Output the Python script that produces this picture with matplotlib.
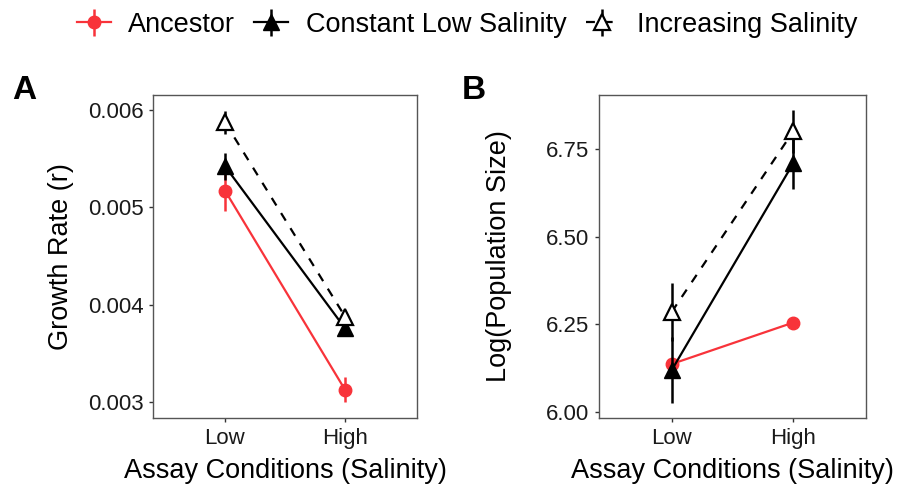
import matplotlib
matplotlib.use("Agg")
import matplotlib.pyplot as plt

plt.rcParams['font.family'] = ['Liberation Sans', 'DejaVu Sans']

# x categories
conditions = ['Low', 'High']
x_pos = [1, 2]

# Panel A: growth rate (r)
growth_anc = [0.00517, 0.00313]
growth_anc_se = [0.00021, 0.00013]
growth_const = [0.00542, 0.00376]
growth_const_se = [0.00014, 0.00008]
growth_inc = [0.00587, 0.00388]
growth_inc_se = [0.00012, 0.00005]

# Panel B: log population size
pop_anc = [6.137, 6.255]
pop_anc_se = [0.010, 0.008]
pop_const = [6.12, 6.709]
pop_const_se = [0.094, 0.072]
pop_inc = [6.286, 6.80]
pop_inc_se = [0.083, 0.06]

red = '#F8333A'
border = '#555555'


def draw_panel(ax, anc, anc_se, const, const_se, inc, inc_se):
    h1 = ax.errorbar(x_pos, anc, yerr=anc_se, color=red, marker='o', markersize=9,
                     lw=1.6, elinewidth=1.8, capsize=0, label='Ancestor', zorder=3)
    h2 = ax.errorbar(x_pos, const, yerr=const_se, color='black', marker='^', markersize=11,
                     lw=1.6, elinewidth=1.8, capsize=0, label='Constant Low Salinity', zorder=4)
    h3 = ax.errorbar(x_pos, inc, yerr=inc_se, color='black', marker='^', markersize=12,
                     markerfacecolor='white', markeredgewidth=1.6, lw=1.6, elinewidth=1.8,
                     capsize=0, linestyle=(0, (4, 4)), label='Increasing Salinity', zorder=5)
    ax.set_xticks(x_pos)
    ax.set_xticklabels(conditions)
    ax.set_xlim(0.4, 2.6)
    for s in ax.spines.values():
        s.set_color(border)
        s.set_linewidth(1.0)
    ax.tick_params(axis='both', length=3, width=1.0, color='#333333', labelsize=16,
                   labelcolor='#1a1a1a', pad=4)
    ax.set_xlabel('Assay Conditions (Salinity)', fontsize=19.5)
    ax.xaxis.set_label_coords(0.5, -0.125)
    return [h1, h2, h3]


fig = plt.figure(figsize=(9.02, 4.95), dpi=100)
axA = fig.add_axes([153 / 902, 1 - 418 / 495, 264 / 902, 323 / 495])
axB = fig.add_axes([599 / 902, 1 - 418 / 495, 267 / 902, 323 / 495])

handles = draw_panel(axA, growth_anc, growth_anc_se, growth_const, growth_const_se,
                     growth_inc, growth_inc_se)
axA.set_ylim(0.00284, 0.00615)
axA.set_yticks([0.003, 0.004, 0.005, 0.006])
axA.set_yticklabels(['0.003', '0.004', '0.005', '0.006'])
axA.set_ylabel('Growth Rate (r)', fontsize=19.5)
axA.yaxis.set_label_coords(-0.30, 0.5)

draw_panel(axB, pop_anc, pop_anc_se, pop_const, pop_const_se, pop_inc, pop_inc_se)
axB.set_ylim(5.983, 6.904)
axB.set_yticks([6.00, 6.25, 6.50, 6.75])
axB.set_yticklabels(['6.00', '6.25', '6.50', '6.75'])
axB.set_ylabel('Log(Population Size)', fontsize=19.5)
axB.yaxis.set_label_coords(-0.325, 0.5)

fig.text(12 / 902, 1 - 99 / 495, 'A', fontsize=24, fontweight='bold', ha='left', va='baseline')
fig.text(462 / 902, 1 - 99 / 495, 'B', fontsize=24, fontweight='bold', ha='left', va='baseline')

fig.legend(handles=handles, loc='center', bbox_to_anchor=(0.518, 0.95), ncol=3,
           frameon=False, fontsize=19.5, handlelength=1.25, handletextpad=0.65,
           columnspacing=0.7)

fig.savefig('out.png', dpi=100)
